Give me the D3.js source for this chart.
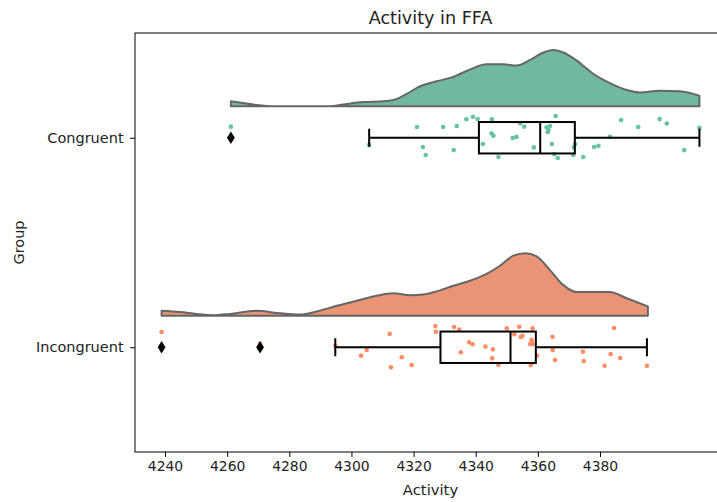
<!DOCTYPE html>
<html><head><meta charset="utf-8">
<script src="https://cdn.jsdelivr.net/npm/d3@7"></script>
<style>
body{margin:0;background:#fff}
svg{display:block;font-family:"DejaVu Sans",sans-serif}
</style>
</head><body>
<svg id="chart" width="717" height="502"></svg>
<script>
// ---------------- data ----------------
const groups = ["Congruent", "Incongruent"];
const xTicks = [4240, 4260, 4280, 4300, 4320, 4340, 4360, 4380];
const chartTitle = "Activity in FFA";
const xLabel = "Activity";
const yLabel = "Group";

const congruentValues = [4261.2, 4305.7, 4321.1, 4323.0, 4323.9, 4329.5, 4332.9, 4333.9, 4337.0, 4339.1,
  4340.6, 4342.3, 4345.2, 4345.1, 4345.7, 4347.3, 4351.9, 4353.1, 4354.3, 4355.6,
  4358.7, 4362.8, 4363.4, 4363.9, 4363.2, 4365.7, 4364.5, 4365.3, 4366.4, 4371.6,
  4372.0, 4371.4, 4374.6, 4378.1, 4379.5, 4383.2, 4386.8, 4392.3, 4399.2, 4401.5,
  4407.1, 4412.0];
const congruentJitter = [-0.053, 0.035, -0.051, 0.044, 0.082, -0.051, 0.059, -0.056, -0.088, -0.100,
  -0.089, 0.030, -0.088, -0.021, -0.009, 0.092, 0.001, -0.004, -0.069, -0.053,
  0.046, -0.050, -0.037, -0.056, -0.027, -0.104, 0.030, 0.079, 0.097, 0.046,
  0.030, 0.082, 0.092, 0.044, 0.038, -0.005, -0.085, -0.051, -0.089, -0.068,
  0.059, -0.047];

const incongruentValues = [4238.9, 4270.6, 4294.8, 4303.1, 4304.9, 4312.3, 4312.7, 4316.2, 4319.4, 4327.0,
  4327.2, 4333.0, 4334.7, 4335.2, 4337.9, 4339.0, 4343.1, 4345.5, 4345.3, 4347.3,
  4350.0, 4352.4, 4354.0, 4354.5, 4355.1, 4358.3, 4358.0, 4357.5, 4358.3, 4359.7,
  4357.7, 4364.7, 4364.8, 4365.5, 4374.5, 4374.8, 4381.5, 4384.5, 4383.4, 4386.5,
  4395.1, 4358.0];
const incongruentJitter = [-0.073, -0.016, -0.007, 0.040, 0.013, -0.064, 0.096, 0.048, 0.085, -0.101,
  -0.074, -0.097, -0.084, 0.024, -0.024, -0.014, -0.003, 0.010, 0.053, 0.085,
  -0.090, -0.062, -0.098, -0.049, -0.055, -0.090, -0.035, -0.014, -0.014, 0.040,
  0.085, -0.050, 0.013, 0.061, 0.021, 0.066, 0.088, -0.092, 0.032, 0.051,
  0.088, -0.025];

// half-violin density outlines (relative density, 100 = widest)
const congruentDensityX = [4261.2, 4264.1, 4269.5, 4274.9, 4293.1, 4297.4, 4303.8, 4310.3, 4313.5, 4317.8,
  4322.1, 4327.4, 4332.8, 4338.2, 4343.5, 4348.9, 4353.2, 4357.5, 4361.8, 4365.0,
  4368.2, 4372.5, 4377.8, 4383.2, 4388.6, 4392.9, 4399.3, 4405.7, 4412.0];
const congruentDensity = [8, 6, 2, 0, 0, 3, 7, 8, 10, 20,
  32, 40, 47, 59, 67, 67, 65, 74, 86, 90,
  86, 73, 52, 37, 26, 22, 25, 24, 17];
const incongruentDensityX = [4238.9, 4244.8, 4250.2, 4255.5, 4260.9, 4269.5, 4277.0, 4283.4, 4288.8, 4295.3,
  4301.7, 4308.1, 4313.5, 4318.9, 4323.1, 4327.4, 4332.8, 4338.2, 4343.5, 4347.8,
  4352.1, 4355.9, 4359.6, 4363.9, 4368.2, 4372.5, 4377.8, 4383.2, 4388.6, 4395.4];
const incongruentDensity = [8, 6, 3, 1, 3, 8, 4, 2, 7, 16,
  24, 32, 36, 33, 34, 39, 48, 56, 67, 80,
  96, 100, 95, 73, 49, 38, 38, 38, 28, 15];

const pointColors = ["#66c2a5", "#fc8d62"];
const violinColors = ["#71b7a1", "#e99575"];

// ---------------- layout ----------------
const plot = {left: 135, top: 33, right: 726, bottom: 452};

const svg = d3.select("#chart");

const x = d3.scaleLinear().domain([4230.34, 4420.55]).range([plot.left, plot.right]);
const y = d3.scaleLinear().domain([-0.5, 1.5]).range([plot.top, plot.bottom]);
const violinOffset = -0.15;
const violinHalf = d3.scaleLinear().domain([0, 100]).range([0, 0.299]);
const boxHalf = 0.075, capHalf = 0.043;

const series = [
  {name: groups[0], values: congruentValues, jitter: congruentJitter, dx: congruentDensityX, dy: congruentDensity},
  {name: groups[1], values: incongruentValues, jitter: incongruentJitter, dx: incongruentDensityX, dy: incongruentDensity}
];

svg.append("clipPath").attr("id", "plotclip")
  .append("rect").attr("x", plot.left).attr("y", plot.top)
  .attr("width", plot.right - plot.left).attr("height", plot.bottom - plot.top);

const g = svg.append("g").attr("clip-path", "url(#plotclip)");

series.forEach((s, i) => {
  const base = i + violinOffset;
  const pts = s.dx.map((v, k) => ({v, d: s.dy[k]}));
  const area = d3.area()
    .x(p => x(p.v))
    .y0(y(base))
    .y1(p => y(base - violinHalf(p.d)))
    .curve(d3.curveMonotoneX);
  g.append("path").attr("d", area(pts))
    .attr("fill", violinColors[i]).attr("stroke", "#666666")
    .attr("stroke-width", 2).attr("stroke-linejoin", "round");
});

// strip points
series.forEach((s, i) => {
  g.selectAll(null).data(s.values.map((v, k) => ({v, j: s.jitter[k]})))
    .join("circle")
    .attr("cx", p => x(p.v)).attr("cy", p => y(i + p.j))
    .attr("r", 2.3).attr("fill", pointColors[i]);
});

// boxes
series.forEach((s, i) => {
  const sorted = s.values.slice().sort(d3.ascending);
  const q1 = d3.quantileSorted(sorted, 0.25);
  const med = d3.quantileSorted(sorted, 0.5);
  const q3 = d3.quantileSorted(sorted, 0.75);
  const iqr = q3 - q1;
  const lo = d3.min(sorted.filter(v => v >= q1 - 1.5 * iqr));
  const hi = d3.max(sorted.filter(v => v <= q3 + 1.5 * iqr));
  const outliers = sorted.filter(v => v < lo || v > hi);
  const bg = g.append("g").attr("stroke", "#000").attr("stroke-width", 2).attr("fill", "none");
  bg.append("line").attr("x1", x(lo)).attr("x2", x(q1)).attr("y1", y(i)).attr("y2", y(i));
  bg.append("line").attr("x1", x(q3)).attr("x2", x(hi)).attr("y1", y(i)).attr("y2", y(i));
  bg.append("line").attr("x1", x(lo)).attr("x2", x(lo)).attr("y1", y(i - capHalf)).attr("y2", y(i + capHalf));
  bg.append("line").attr("x1", x(hi)).attr("x2", x(hi)).attr("y1", y(i - capHalf)).attr("y2", y(i + capHalf));
  bg.append("rect").attr("x", x(q1)).attr("y", y(i - boxHalf))
    .attr("width", x(q3) - x(q1)).attr("height", y(i + boxHalf) - y(i - boxHalf));
  bg.append("line").attr("x1", x(med)).attr("x2", x(med)).attr("y1", y(i - boxHalf)).attr("y2", y(i + boxHalf));
  g.selectAll(null).data(outliers).join("path")
    .attr("transform", v => `translate(${x(v)},${y(i)})`)
    .attr("d", "M0,-6.3L3.9,0L0,6.3L-3.9,0Z").attr("fill", "#000");
});

// frame
svg.append("rect").attr("x", plot.left).attr("y", plot.top)
  .attr("width", plot.right - plot.left).attr("height", plot.bottom - plot.top)
  .attr("fill", "none").attr("stroke", "#000").attr("stroke-width", 1);

// x axis
const xAxis = svg.append("g").attr("transform", `translate(0,${plot.bottom})`)
  .call(d3.axisBottom(x).tickValues(xTicks).tickFormat(d3.format("d")).tickSize(4.9).tickPadding(4.5).tickSizeOuter(0));
xAxis.select(".domain").remove();
xAxis.selectAll("line").attr("stroke", "#000").attr("stroke-width", 1);
xAxis.selectAll("text").attr("font-size", "13.9px").attr("fill", "#222")
  .attr("font-family", "DejaVu Sans, sans-serif");

// y axis
const yAxis = svg.append("g").attr("transform", `translate(${plot.left},0)`)
  .call(d3.axisLeft(y).tickValues([0, 1]).tickFormat(d => groups[d]).tickSize(4.9).tickPadding(6.5).tickSizeOuter(0));
yAxis.select(".domain").remove();
yAxis.selectAll("line").attr("stroke", "#000").attr("stroke-width", 1);
yAxis.selectAll("text").attr("font-size", "14.5px").attr("fill", "#222")
  .attr("font-family", "DejaVu Sans, sans-serif");

// labels
const cx = (plot.left + plot.right) / 2;
svg.append("text").attr("x", cx).attr("y", 23.5).attr("text-anchor", "middle")
  .attr("font-size", "17.6px").attr("fill", "#222").text(chartTitle);
svg.append("text").attr("x", cx).attr("y", 495).attr("text-anchor", "middle")
  .attr("font-size", "14.8px").attr("fill", "#222").text(xLabel);
svg.append("text").attr("transform", `translate(24,${(plot.top + plot.bottom) / 2}) rotate(-90)`)
  .attr("text-anchor", "middle").attr("font-size", "14.5px").attr("fill", "#222").text(yLabel);
</script>
</body></html>
